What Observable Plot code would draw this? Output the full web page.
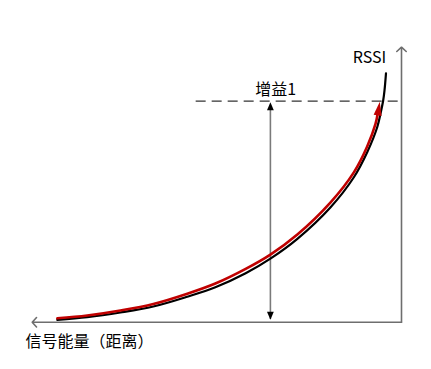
<!DOCTYPE html>
<html>
<head>
<meta charset="utf-8">
<script src="https://cdn.jsdelivr.net/npm/d3@7"></script>
<script src="https://cdn.jsdelivr.net/npm/@observablehq/plot@0.6"></script>
<style>
  html, body { margin: 0; padding: 0; background: #fff; }
</style>
</head>
<body>
<div id="chart"></div>
<script>
// Black RSSI curve (x = signal energy / distance, increasing to the left; y = RSSI)
const blackDistance = [93.2, 85.1, 76.1, 67.2, 58.0, 50.4, 42.2, 35.5, 28.2, 19.2, 12.9, 9.29, 6.58, 5.50, 4.96, 4.60, 4.20];
const blackRssi     = [0.87, 1.82, 3.53, 5.71, 9.27, 12.69, 17.78, 23.1, 30.3, 41.8, 52.7, 61.8, 70.9, 77.0, 80.6, 84.3, 90.5];

// Red arrowed curve that follows it
const redDistance = [93.2, 85.1, 76.1, 67.2, 58.0, 50.4, 42.2, 35.5, 28.2, 19.2, 12.9, 9.29, 7.04, 6.44];
const redRssi     = [1.42, 2.44, 4.25, 6.62, 10.36, 14.07, 19.4, 24.6, 31.9, 43.6, 54.5, 63.9, 72.1, 75.9];
const redTip = {distance: 5.88, rssi: 80.2};

// Gain level and the measurement line
const gainLevel = 80.4;
const gainDistance = 35.5;
const dashStart = 55.6;

// Labels
const yLabel = "RSSI";
const xLabel = "信号能量（距离）";
const gainLabel = "增益1";

const black = blackDistance.map((d, i) => ({x: d, y: blackRssi[i]}));
const red = redDistance.map((d, i) => ({x: d, y: redRssi[i]}));

const font = "'Noto Sans CJK SC', 'Noto Sans', sans-serif";

const chart = Plot.plot({
  width: 431,
  height: 369,
  marginLeft: 31.7,
  marginRight: 30,
  marginTop: 46.7,
  marginBottom: 47.3,
  x: {domain: [0, 100], reverse: true, axis: null},
  y: {domain: [0, 100], axis: null},
  style: {fontFamily: font, background: "#fff", overflow: "visible"},
  marks: [
    // axes
    Plot.arrow([{x1: 0, y1: 0, x2: 100, y2: 0}], {x1: "x1", y1: "y1", x2: "x2", y2: "y2", stroke: "#6e6e6e", strokeWidth: 1.6, headLength: 6, headAngle: 95}),
    Plot.arrow([{x1: 0, y1: 0, x2: 0, y2: 100}], {x1: "x1", y1: "y1", x2: "x2", y2: "y2", stroke: "#6e6e6e", strokeWidth: 1.6, headLength: 6, headAngle: 95}),
    // dashed gain level
    Plot.ruleY([gainLevel], {x1: dashStart, x2: 0, stroke: "#333", strokeWidth: 1.1, strokeDasharray: "10,6"}),
    // gain measurement line
    Plot.ruleX([gainDistance], {y1: 1.0, y2: gainLevel - 1.5, stroke: "#7a7a7a", strokeWidth: 1.6}),
    Plot.vector([{x: gainDistance, y: gainLevel - 0.4}], {x: "x", y: "y", length: 8, rotate: 0, shape: "spike", anchor: "end", r: 3.4, fill: "#000", stroke: "none"}),
    Plot.vector([{x: gainDistance, y: 0.9}], {x: "x", y: "y", length: 8, rotate: 180, shape: "spike", anchor: "end", r: 3.4, fill: "#000", stroke: "none"}),
    // curves
    Plot.line(black, {x: "x", y: "y", stroke: "#000", strokeWidth: 2.2, curve: "catmull-rom"}),
    Plot.line(red, {x: "x", y: "y", stroke: "#c00000", strokeWidth: 2.6, curve: "catmull-rom"}),
    Plot.vector([redTip], {x: "distance", y: "rssi", length: 14, rotate: 9, shape: "spike", anchor: "end", r: 4, fill: "#c00000", stroke: "none"}),
    // labels
    Plot.text([yLabel], {x: 8.67, y: 96.3, text: d => d, fontSize: 16, fill: "#000", textAnchor: "middle"}),
    Plot.text([gainLabel], {x: 34.1, y: 84.6, text: d => d, fontSize: 16, fill: "#000", textAnchor: "middle"}),
    Plot.text([xLabel], {x: 101.8, y: -7.2, text: d => d, fontSize: 16, fill: "#000", textAnchor: "start"})
  ]
});
document.getElementById("chart").append(chart);
</script>
</body>
</html>
